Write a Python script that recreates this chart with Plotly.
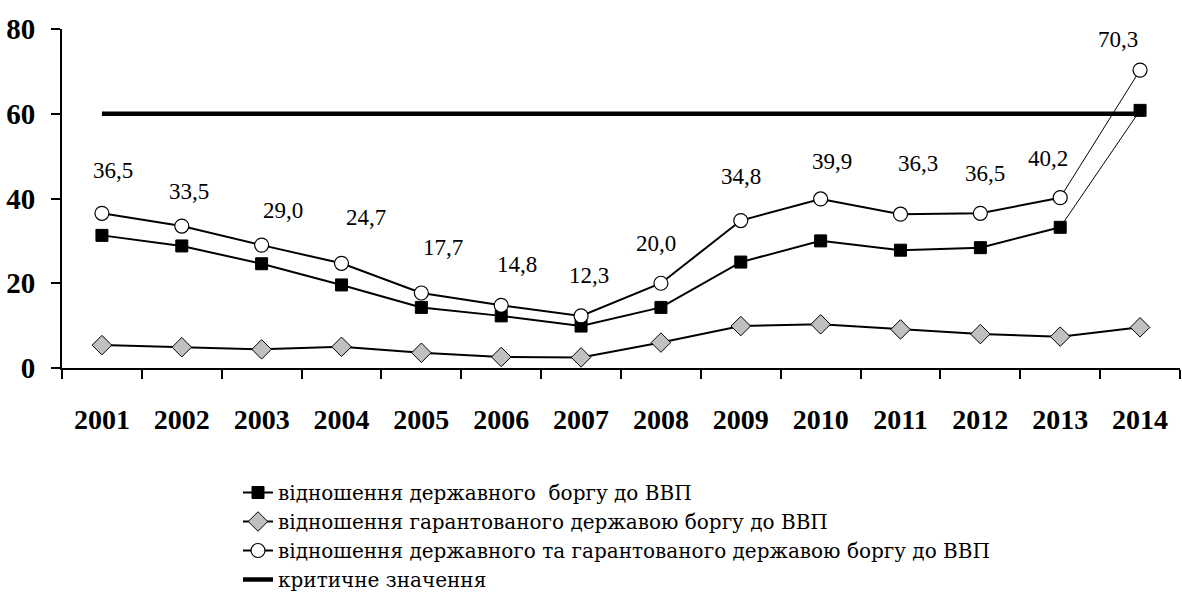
import plotly.graph_objects as go

years = ["2001", "2002", "2003", "2004", "2005", "2006", "2007",
         "2008", "2009", "2010", "2011", "2012", "2013", "2014"]

# debt-to-GDP ratios, %
state_debt = [31.3, 28.8, 24.6, 19.6, 14.3, 12.3, 9.9,
              14.3, 25.0, 30.0, 27.8, 28.4, 33.2, 60.8]
guaranteed_debt = [5.4, 4.9, 4.4, 5.0, 3.6, 2.6, 2.5,
                   6.0, 9.9, 10.3, 9.1, 8.0, 7.4, 9.6]
total_debt = [36.5, 33.5, 29.0, 24.7, 17.7, 14.8, 12.3,
              20.0, 34.8, 39.9, 36.3, 36.5, 40.2, 70.3]
critical_level = [60] * len(years)

names = [
    "відношення державного  боргу до ВВП",
    "відношення гарантованого державою боргу до ВВП",
    "відношення державного та гарантованого державою боргу до ВВП",
    "критичне значення",
]

# label offsets (px) for the total-debt value labels
label_dx = [11, 7, 21, 24, 22, 16, 8, -5, 0, 11, 17, 5, -12, -22]
label_dy = [43, 35, 35, 46, 46, 41, 40, 40, 44, 37, 51, 40, 39, 31]

FONT = "Liberation Serif"
fig = go.Figure()

# critical threshold line
fig.add_trace(go.Scatter(
    x=years, y=critical_level, mode="lines", name=names[3],
    line=dict(color="black", width=4.5), legendrank=4))

# thin connecting segments for the last year
for series in (state_debt, total_debt):
    fig.add_trace(go.Scatter(
        x=years[-2:], y=series[-2:], mode="lines", showlegend=False,
        line=dict(color="black", width=1), hoverinfo="skip"))

# state debt (squares)
fig.add_trace(go.Scatter(
    x=years[:-1], y=state_debt[:-1], mode="lines+markers", name=names[0],
    line=dict(color="black", width=2),
    marker=dict(symbol="square", size=12, color="black",
                line=dict(color="black", width=1)),
    legendrank=1))
fig.add_trace(go.Scatter(
    x=years[-1:], y=state_debt[-1:], mode="markers", showlegend=False,
    marker=dict(symbol="square", size=12, color="black",
                line=dict(color="black", width=1))))

# guaranteed debt (diamonds)
fig.add_trace(go.Scatter(
    x=years, y=guaranteed_debt, mode="lines+markers", name=names[1],
    line=dict(color="black", width=2),
    marker=dict(symbol="diamond", size=15, color="#c0c0c0",
                line=dict(color="black", width=1)),
    legendrank=2))

# total debt (open circles)
fig.add_trace(go.Scatter(
    x=years[:-1], y=total_debt[:-1], mode="lines+markers", name=names[2],
    line=dict(color="black", width=2),
    marker=dict(symbol="circle", size=14, color="white",
                line=dict(color="black", width=1.2)),
    legendrank=3))
fig.add_trace(go.Scatter(
    x=years[-1:], y=total_debt[-1:], mode="markers", showlegend=False,
    marker=dict(symbol="circle", size=14, color="white",
                line=dict(color="black", width=1.2))))

annotations = []
for i, (v, dx, dy) in enumerate(zip(total_debt, label_dx, label_dy)):
    annotations.append(dict(
        xref="x", yref="y", x=i, y=v,
        text=f"{v:.1f}".replace(".", ","), showarrow=False,
        xshift=dx, yshift=dy,
        font=dict(family=FONT, size=23, color="black")))

fig.update_layout(
    width=1182, height=595,
    margin=dict(l=62, r=2, t=29, b=227, autoexpand=False),
    paper_bgcolor="white", plot_bgcolor="white",
    font=dict(family=FONT, color="black"),
    showlegend=True,
    annotations=annotations,
    legend=dict(
        xref="container", yref="container",
        x=238 / 1182, y=1 - 473 / 595, xanchor="left", yanchor="top",
        font=dict(family="DejaVu Serif", size=20, color="black"),
        bgcolor="rgba(0,0,0,0)", tracegroupgap=0,
    ),
    xaxis=dict(
        type="category", range=[-0.5, 13.5],
        showline=True, linecolor="black", linewidth=2,
        ticks="outside", tickson="boundaries", ticklen=9,
        tickcolor="black", tickwidth=2, showgrid=False, zeroline=False,
        tickfont=dict(family=FONT, size=28, color="black", weight="bold"),
        ticklabelstandoff=25,
    ),
    yaxis=dict(
        range=[0, 80], tickvals=[0, 20, 40, 60, 80],
        showline=True, linecolor="black", linewidth=2,
        ticks="outside", ticklen=9, tickcolor="black", tickwidth=2,
        showgrid=False, zeroline=False,
        tickfont=dict(family=FONT, size=29, color="black", weight="bold"),
        ticklabelstandoff=10,
    ),
)

fig.write_html("out.html")
